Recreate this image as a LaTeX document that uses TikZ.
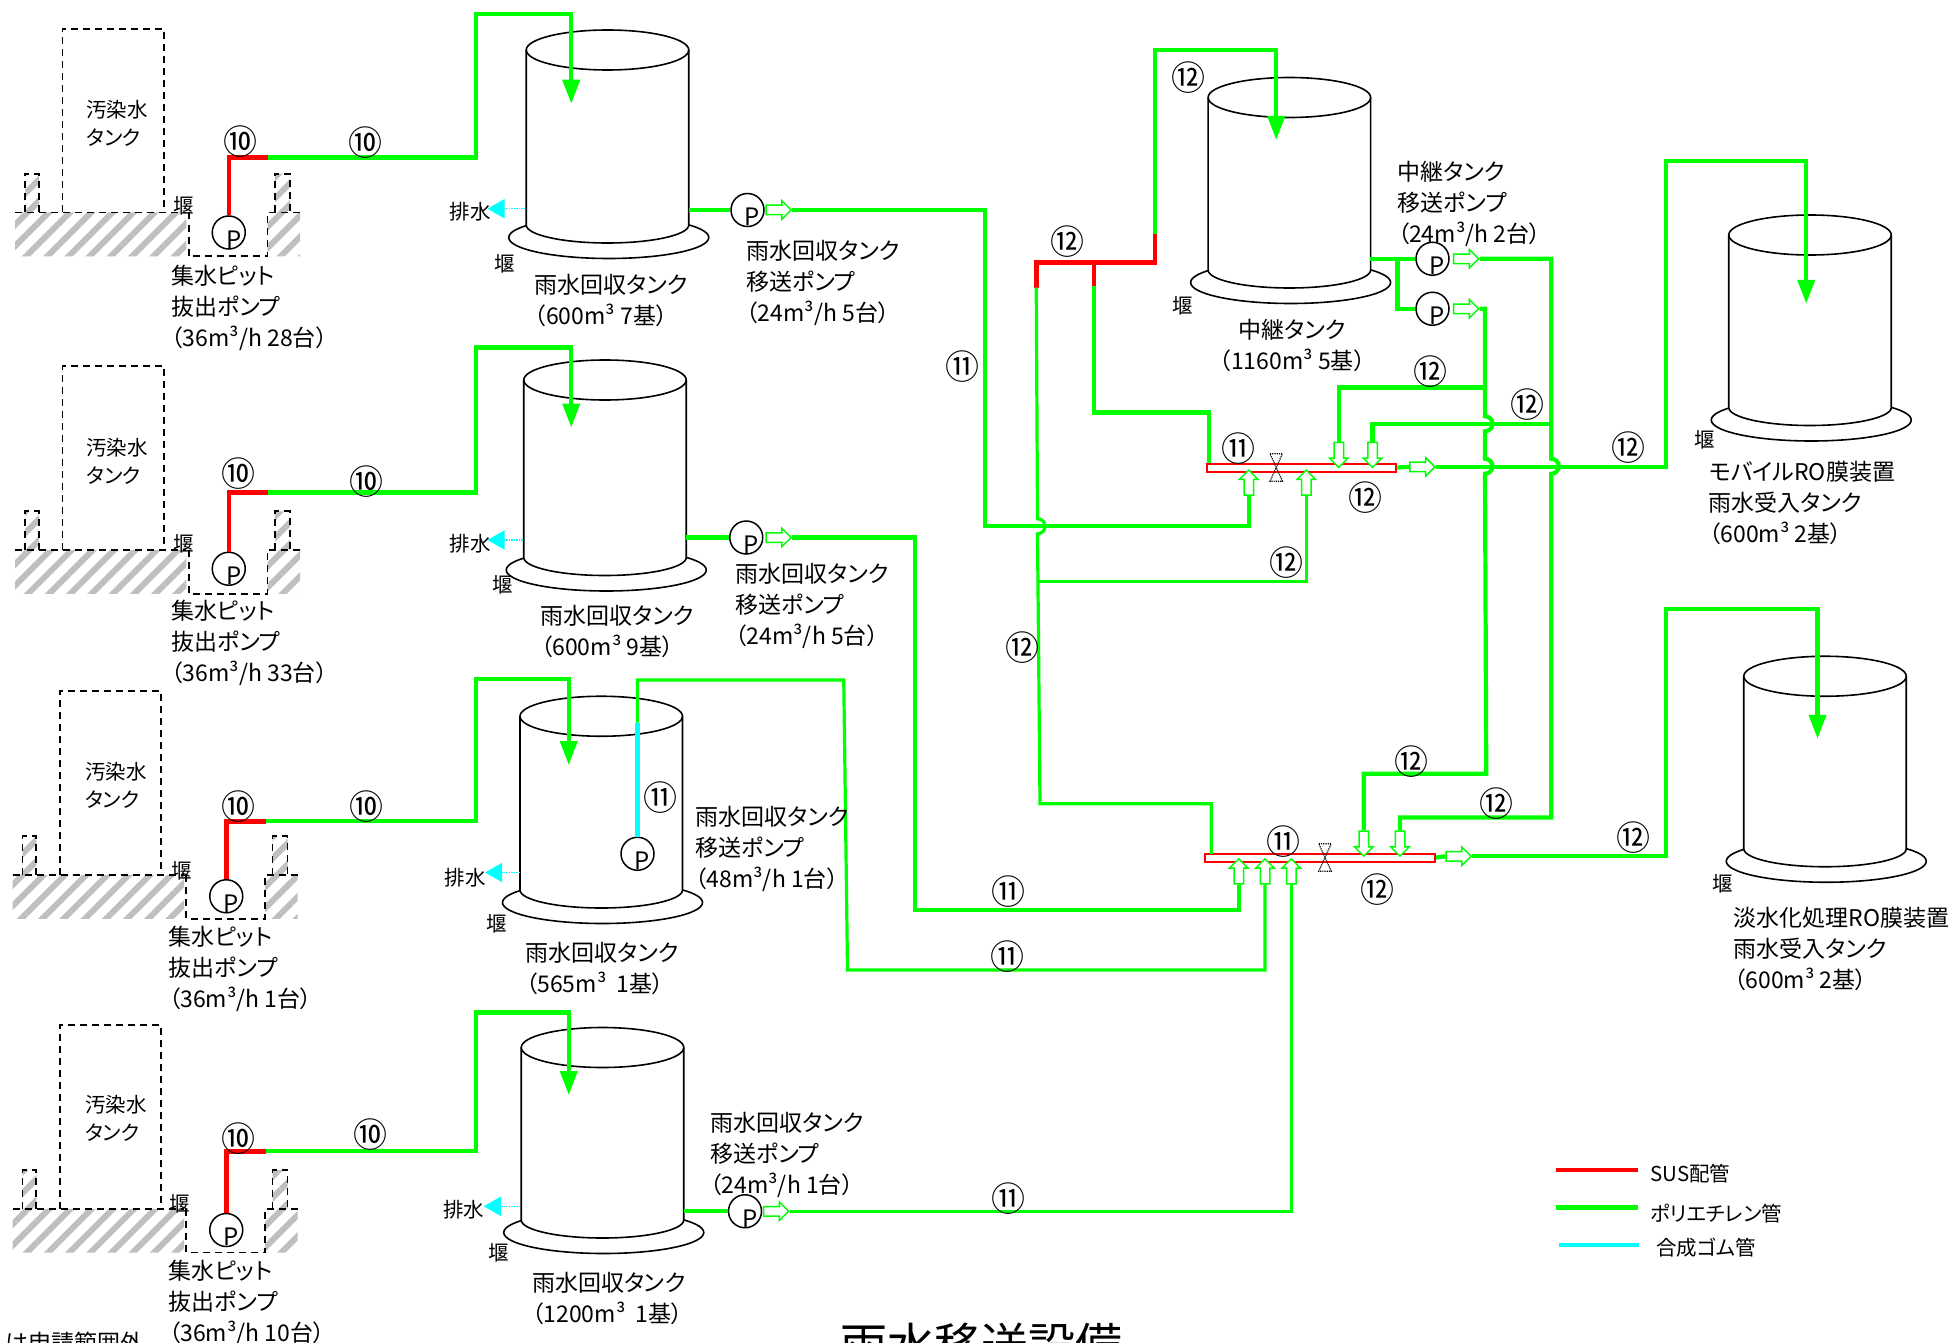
\documentclass[tikz,border=0pt]{standalone}
\usepackage{fontspec}
\setmainfont{Noto Sans CJK JP}[RawFeature=+palt]
\usetikzlibrary{arrows.meta,shapes.arrows,patterns.meta}
\definecolor{pipecyan}{RGB}{0,255,255}
\definecolor{pipegreen}{RGB}{0,255,0}
\definecolor{pipered}{RGB}{255,0,0}

\tikzset{
    pics/tank/.style={code={
        \draw[line width=1.6pt,fill=white] (1,#1+10) ellipse [x radius=100pt,y radius=21pt];
        \draw[line width=1.6pt,fill=white] (-65,0) -- (-65,#1) arc [start angle=180,end angle=360,x radius=81.25pt,y radius=18pt] -- (65,0);
        \draw[line width=1.6pt] (0,0) ellipse [x radius=81.25pt,y radius=20pt];
    }},
    pics/pitbase/.style={code={
        \fill[pattern={Lines[angle=45,distance=15pt,line width=6pt]},pattern color=black!25]
            (12,170) rectangle (149,205) (214,170) rectangle (240,205)
            (20,139) rectangle (31,170) (220,139) rectangle (232,170);
        \draw[line width=1.8pt,dash pattern=on 7pt off 5pt]
            (50,170) -- (50,23) -- (131,23) -- (131,170)
            (12,170) -- (149,170) (151,170) -- (151,205) -- (214,205) -- (214,170) -- (240,170)
            (20,170) -- (20,139) -- (31,139) -- (31,170)
            (220,170) -- (220,139) -- (232,139) -- (232,170);
    }},
    pics/valve/.style={code={
        \draw[line width=1.2pt,densely dotted] (-5,-11) -- (5,-11) -- (-5,11) -- (5,11) -- cycle;
    }}
}

\begin{document}
\begin{tikzpicture}[x=1.25pt,y=-1.25pt,
    every node/.style={inner sep=0pt},
    txt/.style={font=\fontsize{23}{31}\selectfont,align=left},
    small/.style={font=\fontsize{20.5}{28}\selectfont,align=left},
    cnum/.style={font=\fontsize{34}{34}\selectfont},
    pump/.style={circle,draw,line width=1.5pt,fill=white,minimum size=33pt,
        label={[font=\fontsize{24}{24}\selectfont,xshift=5pt,yshift=-7pt]center:P}},
    hollow/.style={single arrow,draw=pipegreen,fill=white,line width=1.5pt,inner ysep=4pt,
        minimum height=25pt,single arrow head extend=4.5pt},
    header/.style={rectangle,draw=pipered,fill=white,line width=2pt,minimum height=8pt},
    poly/.style={draw=pipegreen,line width=4.2pt},
    polythin/.style={draw=pipegreen,line width=3.2pt},
    sus/.style={draw=pipered,line width=4.5pt},
    rubber/.style={draw=pipecyan,line width=4.5pt},
    intank/.style={-{Triangle[length=24pt,width=17pt]}},
    drain/.style={draw=pipecyan,line width=1.5pt,densely dotted,-{Triangle[length=17pt,width=19pt]}}]

    \useasboundingbox (0,0) rectangle (1567.2,1074.4);

    \pic at (0,0) {pitbase};
    \pic at (0,270) {pitbase};
    \pic at (-2,530) {pitbase};
    \pic at (-2,797) {pitbase};

    \pic at (486,40) {tank=140};
    \pic at (484,304) {tank=142};
    \pic at (481,573) {tank=139};
    \pic at (482,838) {tank=138};
    \pic at (1031.5,78) {tank=138};
    \pic at (1448,188) {tank=138};
    \pic at (1460,541) {tank=138};

    \node[header,minimum width=189pt] (h1) at (1041.5,374) {};
    \node[header,minimum width=230pt] (h2) at (1056,686) {};

    \begin{scope}[every node/.append style={hollow,rotate=90}]
        \node (ia1) at (999,388) {};
        \node (ia2) at (1045,388) {};
        \node (ia3) at (991,699) {};
        \node (ia4) at (1012,699) {};
        \node (ia5) at (1033,699) {};
    \end{scope}
    \begin{scope}[every node/.append style={hollow,rotate=-90}]
        \node (da1) at (1071,362) {};
        \node (da2) at (1098,362) {};
        \node (da3) at (1091,673) {};
        \node (da4) at (1120,673) {};
    \end{scope}
    \begin{scope}[every node/.append style={hollow}]
        \node (oa1) at (621,168) {};
        \node (oa2) at (621,430) {};
        \node (oa4) at (619,969) {};
        \node (oa5) at (1171,207) {};
        \node (oa6) at (1171,247) {};
        \node (oa7) at (1136,373.5) {};
        \node (oa8) at (1165,685) {};
    \end{scope}

    \node[pump] (pp1) at (183,186) {};
    \node[pump] (pp2) at (183,455) {};
    \node[pump] (pp3) at (181,717) {};
    \node[pump] (pp4) at (181,984) {};
    \node[pump] (rp1) at (598,168) {};
    \node[pump] (rp2) at (597,430) {};
    \node[pump] (rp3) at (510,683) {};
    \node[pump] (rp4) at (596,969) {};
    \node[pump] (rp5) at (1146,207) {};
    \node[pump] (rp6) at (1146,247) {};

    \coordinate (a1) at (214,126);
    \coordinate (b1) at (381,11);
    \coordinate (c1) at (457,83);
    \coordinate (a2) at (214,394);
    \coordinate (b2) at (381,278);
    \coordinate (c2) at (457,342);
    \coordinate (a3) at (213,657);
    \coordinate (b3) at (381,543);
    \coordinate (c3) at (455,612);
    \coordinate (a4) at (213,921);
    \coordinate (b4) at (381,810);
    \coordinate (c4) at (455,876);

    \draw[sus] (pp1.north) |- (a1);
    \draw[sus] (pp2.north) |- (a2);
    \draw[sus] (pp3.north) |- (a3);
    \draw[sus] (pp4.north) |- (a4);
    \draw[poly,intank] (a1) -| (b1) -| (c1);
    \draw[poly,intank] (a2) -| (b2) -| (c2);
    \draw[poly,intank] (a3) -| (b3) -| (c3);
    \draw[poly,intank] (a4) -| (b4) -| (c4);

    \coordinate (s1) at (551,168);
    \coordinate (s2) at (549,430);
    \coordinate (s4) at (547,969);
    \coordinate (s5) at (1096,207);
    \coordinate (j5) at (1118,207);
    \draw[poly] (s1) -- (rp1);
    \draw[poly] (s2) -- (rp2);
    \draw[poly] (s4) -- (rp4);
    \draw[poly] (s5) -- (rp5);
    \draw[poly] (j5) |- (rp6);

    \coordinate (k1) at (788,421);
    \coordinate (k2) at (732,728);
    \coordinate (j3) at (510,578);
    \coordinate (k3) at (675,544);
    \coordinate (k4) at (678,776);
    \draw[poly] (oa1.tip) -| (k1) -| (ia1.tail);
    \draw[poly] (oa2.tip) -| (k2) -| (ia3.tail);
    \draw[rubber] (rp3.north) -- (j3);
    \draw[polythin] (j3) |- (k3) -- (k4) -| (ia4.tail);
    \draw[polythin] (oa4.tip) -| (ia5.tail);

    \coordinate (g1) at (829,230);
    \coordinate (g2) at (924,210);
    \coordinate (g3) at (924,187);
    \coordinate (g4) at (924,40);
    \coordinate (g5) at (1021,112);
    \coordinate (g7) at (875,210);
    \coordinate (g8) at (875,229);
    \coordinate (g9) at (967,330);
    \coordinate (q1) at (830,415);
    \coordinate (q2) at (832,643);
    \coordinate (q3) at (831,465);
    \coordinate (g10) at (969,683);
    \draw[sus] (g1) |- (g2) -- (g3);
    \draw[sus] (g7) -- (g8);
    \draw[poly,intank] (g3) -- (g4) -| (g5);
    \draw[polythin] (g1) -- (q1) arc [start angle=90,end angle=-90,radius=7.5pt] -- (q2) -| (g10);
    \draw[polythin] (q3) -| (ia2.tail);
    \draw[poly] (g8) |- (g9) -- (g9 |- h1.north);

    \coordinate (m1) at (1241,367);
    \coordinate (m2) at (1241,654);
    \coordinate (m3) at (1188,333);
    \coordinate (m4) at (1188,367);
    \coordinate (m5) at (1189,619);
    \coordinate (t1) at (1241,339);
    \coordinate (t2) at (1188,310);
    \draw[poly] (oa5.tip) -| (m1) arc [start angle=90,end angle=-90,radius=7.5pt] -- (m2) -| (da4.tail);
    \draw[poly] (oa6.tip) -| (m3) arc [start angle=90,end angle=-90,radius=7.5pt] -- (m4) arc [start angle=90,end angle=-90,radius=7.5pt] -- (m5) -| (da3.tail);
    \draw[poly] (t1) -| (da2.tail);
    \draw[poly] (t2) -| (da1.tail);

    \coordinate (w1) at (1333,129);
    \coordinate (w2) at (1445,243);
    \coordinate (w3) at (1333,487);
    \coordinate (w4) at (1454,591);
    \draw[poly] (h1.east) -- (oa7.tail);
    \draw[poly,intank] (oa7.tip) -| (w1) -| (w2);
    \draw[poly] (h2.east) -- (oa8.tail);
    \draw[poly,intank] (oa8.tip) -| (w3) -| (w4);

    \pic at (1021,374) {valve};
    \pic at (1060,686) {valve};

    \coordinate (e1) at (420,167);
    \coordinate (f1) at (390,167);
    \coordinate (e2) at (418,432);
    \coordinate (f2) at (390,432);
    \coordinate (e3) at (416,698);
    \coordinate (f3) at (388,698);
    \coordinate (e4) at (416,965);
    \coordinate (f4) at (387,965);
    \draw[drain] (e1) -- (f1);
    \draw[drain] (e2) -- (f2);
    \draw[drain] (e3) -- (f3);
    \draw[drain] (e4) -- (f4);

    \begin{scope}[every node/.append style={small,anchor=west}]
        \node (st1) at (69,99) {汚染水\\タンク};
        \node (st2) at (69,369) {汚染水\\タンク};
        \node (st3) at (68,628) {汚染水\\タンク};
        \node (st4) at (68,895) {汚染水\\タンク};
    \end{scope}

    \begin{scope}[every node/.append style={txt,anchor=west}]
        \node (pl1) at (137,246) {集水ピット\\抜出ポンプ\\（36m³/h 28台）};
        \node (pl2) at (137,514) {集水ピット\\抜出ポンプ\\（36m³/h 33台）};
        \node (pl3) at (135,775) {集水ピット\\抜出ポンプ\\（36m³/h 1台）};
        \node (pl4) at (135,1042) {集水ピット\\抜出ポンプ\\（36m³/h 10台）};
        \node (rl1) at (597,226) {雨水回収タンク\\移送ポンプ\\（24m³/h 5台）};
        \node (rl2) at (588,485) {雨水回収タンク\\移送ポンプ\\（24m³/h 5台）};
        \node (rl3) at (556,679) {雨水回収タンク\\移送ポンプ\\（48m³/h 1台）};
        \node (rl4) at (568,924) {雨水回収タンク\\移送ポンプ\\（24m³/h 1台）};
        \node (rl5) at (1118,163) {中継タンク\\移送ポンプ\\（24m³/h 2台）};
        \node (ml1) at (1367,402) {モバイルRO膜装置\\雨水受入タンク\\（600m³ 2基）};
        \node (ml2) at (1387,759) {淡水化処理RO膜装置\\雨水受入タンク\\（600m³ 2基）};
    \end{scope}

    \begin{scope}[every node/.append style={txt}]
        \node (tl1) at (489,240) {雨水回収タンク\\（600m³ 7基）};
        \node (tl2) at (494,505) {雨水回収タンク\\（600m³ 9基）};
        \node (tl3) at (482,775) {雨水回収タンク\\（565m³\ \ 1基）};
        \node (tl4) at (487,1039) {雨水回収タンク\\（1200m³\ \ 1基）};
        \node[align=center] (tl5) at (1034,276) {中継タンク\\（1160m³ 5基）};
    \end{scope}

    \begin{scope}[every node/.append style={small}]
        \node (dr1) at (376,169) {排水};
        \node (dr2) at (376,435) {排水};
        \node (dr3) at (372,702) {排水};
        \node (dr4) at (371,968) {排水};
        \node (se1) at (147,165) {堰};
        \node (se2) at (147,435) {堰};
        \node (se3) at (145,697) {堰};
        \node (se4) at (144,963) {堰};
        \node (se5) at (404,211) {堰};
        \node (se6) at (402,468) {堰};
        \node (se7) at (397,739) {堰};
        \node (se8) at (399,1002) {堰};
        \node (se9) at (946,245) {堰};
        \node (se10) at (1364,352) {堰};
        \node (se11) at (1378,707) {堰};
    \end{scope}

    \begin{scope}[every node/.append style={cnum}]
        \node (n1) at (192,113) {⑩};
        \node (n2) at (292,114) {⑩};
        \node (n3) at (191,379) {⑩};
        \node (n4) at (293,385) {⑩};
        \node (n5) at (191,645) {⑩};
        \node (n6) at (293,645) {⑩};
        \node (n7) at (191,911) {⑩};
        \node (n8) at (296,908) {⑩};
        \node (n9) at (770,293) {⑪};
        \node (n10) at (991,359) {⑪};
        \node (n11) at (1027,673) {⑪};
        \node (n12) at (807,713) {⑪};
        \node (n13) at (806,765) {⑪};
        \node (n14) at (807,959) {⑪};
        \node (n15) at (528,638) {⑪};
        \node (n16) at (951,62) {⑫};
        \node (n17) at (854,193) {⑫};
        \node (n18) at (1144,297) {⑫};
        \node (n19) at (1222,324) {⑫};
        \node (n20) at (1303,358) {⑫};
        \node (n21) at (1092,398) {⑫};
        \node (n22) at (1029,450) {⑫};
        \node (n23) at (818,518) {⑫};
        \node (n24) at (1129,609) {⑫};
        \node (n25) at (1197,643) {⑫};
        \node (n26) at (1307,670) {⑫};
        \node (n27) at (1102,712) {⑫};
    \end{scope}

    \coordinate (l1) at (1245,936);
    \coordinate (l2) at (1310,936);
    \coordinate (l3) at (1245,966);
    \coordinate (l4) at (1310,966);
    \coordinate (l5) at (1247,996);
    \coordinate (l6) at (1311,996);
    \draw[sus] (l1) -- (l2);
    \draw[poly] (l3) -- (l4);
    \draw[rubber] (l5) -- (l6);
    \node[small,anchor=west] (lg1) at (1320,939) {SUS配管};
    \node[small,anchor=west] (lg2) at (1320,971) {ポリエチレン管};
    \node[small,anchor=west] (lg3) at (1325,998) {合成ゴム管};

    \node[anchor=east,font=\fontsize{23}{23}\selectfont] (nt) at (115,1074) {は申請範囲外};
    \node[font=\fontsize{47}{47}\selectfont] (ttl) at (785,1076) {雨水移送設備};

\end{tikzpicture}
\end{document}
